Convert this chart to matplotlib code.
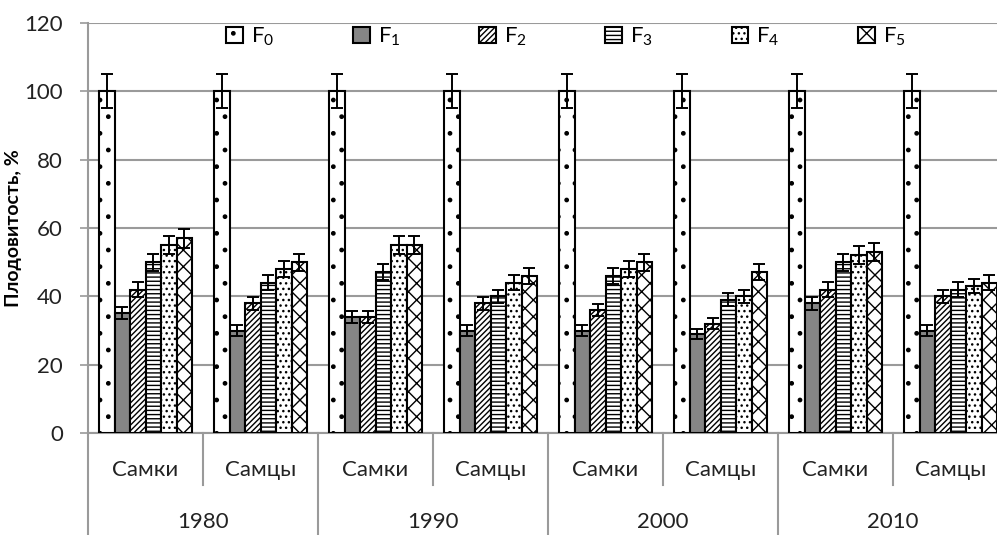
import numpy as np
import matplotlib
matplotlib.use("Agg")
import matplotlib.pyplot as plt
from matplotlib.patches import Patch

plt.rcParams['font.family'] = ['Lato', 'DejaVu Sans']
plt.rcParams['mathtext.default'] = 'regular'
plt.rcParams['hatch.linewidth'] = 1.0

years = ['1980', '1990', '2000', '2010']
sexes = ['Самки', 'Самцы']
generations = ['F$_0$', 'F$_1$', 'F$_2$', 'F$_3$', 'F$_4$', 'F$_5$']

# fertility per group (year x sex), one list per generation
f0 = [100, 100, 100, 100, 100, 100, 100, 100]
f1 = [35, 30, 34, 30, 30, 29, 38, 30]
f2 = [42, 38, 34, 38, 36, 32, 42, 40]
f3 = [50, 44, 47, 40, 46, 39, 50, 42]
f4 = [55, 48, 55, 44, 48, 40, 52, 43]
f5 = [57, 50, 55, 46, 50, 47, 53, 44]
series = [f0, f1, f2, f3, f4, f5]
err_pct = 5  # error bars: 5 % of the value

faces = ['white', '#858585', 'white', 'white', 'white', 'white']
hatches = ['.', None, '//////', '----', '...', 'xx']

fig = plt.figure(figsize=(9.97, 5.35), dpi=100)
W, H = 997, 535
ax_l, ax_r, ax_t, ax_b = 88, 1008, 23, 433
ax = fig.add_axes([ax_l / W, 1 - ax_b / H, (ax_r - ax_l) / W, (ax_b - ax_t) / H])

n_groups = len(years) * len(sexes)
centers = np.arange(n_groups) + 0.5
bw = 93 / 115 / 6

for j, vals in enumerate(series):
    vals = np.array(vals, dtype=float)
    x = centers + (j - 2.5) * bw
    ax.bar(x, vals, width=bw, color=faces[j], edgecolor='black',
           linewidth=1.5, hatch=hatches[j], zorder=3)
    ax.errorbar(x, vals, yerr=vals * err_pct / 100, fmt='none', ecolor='black',
                elinewidth=1.4, capsize=4.5, capthick=1.4, zorder=4)

ax.set_xlim(0, n_groups)
ax.set_ylim(0, 120)
ax.set_yticks(range(0, 121, 20))
ax.set_xticks([])
ax.yaxis.grid(True, color='#9a9a9a', linewidth=1.5)
ax.set_axisbelow(True)
for s in ax.spines.values():
    s.set_visible(False)
ax.tick_params(axis='y', length=6, width=1.2, color='#9a9a9a', pad=12,
               labelsize=16, labelcolor='#222222')
ax.set_ylabel('Плодовитость, %', fontsize=14, fontweight='bold')
ax.yaxis.set_label_coords(-0.072, 0.5)

# category axis drawn below the plot
trans = ax.get_xaxis_transform()
short_y = -(485 - ax_b) / (ax_b - ax_t)
long_y = -(H - ax_b) / (ax_b - ax_t)
ax.plot([0, n_groups], [0, 0], transform=trans, color='#9a9a9a', lw=1.5,
        clip_on=False, zorder=2)
ax.plot([0, 0], [1, long_y], transform=trans, color='#9a9a9a', lw=1.5,
        clip_on=False, zorder=2)
for i in range(1, n_groups):
    bottom = long_y if i % 2 == 0 else short_y
    ax.plot([i, i], [0, bottom], transform=trans, color='#9a9a9a', lw=1.5,
            clip_on=False)
for i, c in enumerate(centers):
    ax.text(c, -(470 - ax_b) / (ax_b - ax_t), sexes[i % 2], transform=trans,
            ha='center', va='center', fontsize=16, color='#222222')
for k, yr in enumerate(years):
    ax.text(2 * k + 1, -(522 - ax_b) / (ax_b - ax_t), yr, transform=trans,
            ha='center', va='center', fontsize=16, color='#222222')

handles = [Patch(facecolor=faces[j], edgecolor='black', linewidth=1.5,
                 hatch=hatches[j]) for j in range(6)]
fig.legend(handles, generations, loc='center', bbox_to_anchor=(566 / W, 1 - 37 / H),
           ncol=6, frameon=False, fontsize=16, handlelength=0.75, handleheight=0.75,
           handletextpad=0.35, columnspacing=3.55, borderpad=0)

fig.savefig('out.png', dpi=100)
